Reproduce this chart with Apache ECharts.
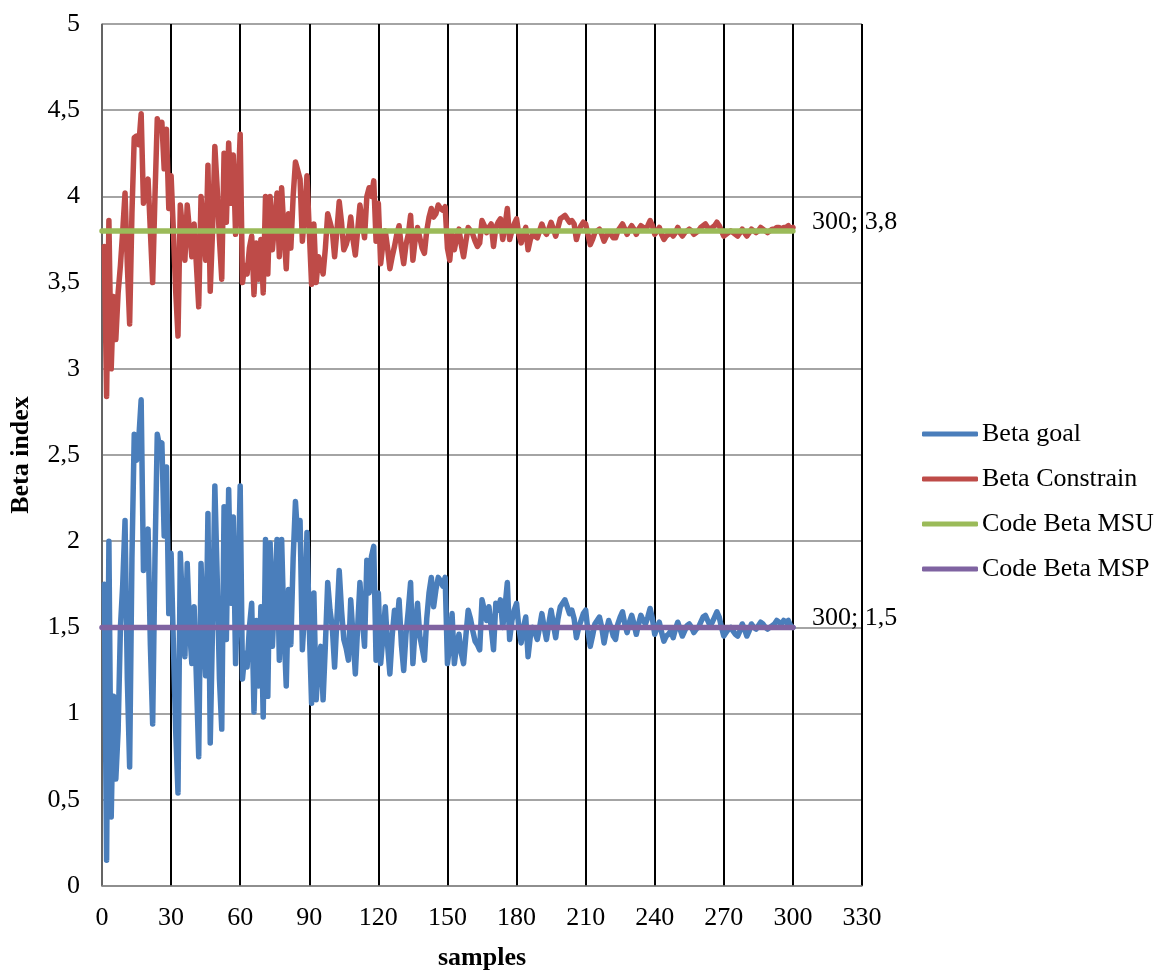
<!DOCTYPE html>
<html>
<head>
<meta charset="utf-8">
<title>Beta index vs samples</title>
<script src="https://cdn.jsdelivr.net/npm/echarts@6/dist/echarts.min.js"></script>
<style>
  html, body { margin: 0; padding: 0; background: #ffffff; }
  #chart { width: 1160px; height: 972px; }
</style>
</head>
<body>
<div id="chart"></div>
<script>
// Beta index per sample (samples 1..300)
const betaGoal = [
  1.75, 0.15, 2.00, 0.40, 1.10, 0.62, 0.90, 1.50, 1.75, 2.12,
  1.20, 0.69, 1.90, 2.62, 2.47, 2.60, 2.82, 1.83, 2.00, 2.07,
  1.40, 0.94, 1.90, 2.62, 2.55, 2.57, 2.03, 2.43, 1.58, 1.93,
  1.40, 0.90, 0.54, 1.93, 1.60, 1.33, 1.87, 1.50, 1.29, 1.62,
  1.20, 0.75, 1.87, 1.50, 1.22, 2.16, 0.83, 1.50, 2.32, 1.80,
  1.20, 0.91, 2.20, 1.43, 2.30, 1.64, 2.14, 1.29, 1.70, 2.32,
  1.20, 1.35, 1.27, 1.50, 1.64, 1.01, 1.54, 1.16, 1.62, 0.98,
  2.01, 1.10, 1.99, 1.39, 1.70, 2.01, 1.31, 2.01, 1.50, 1.16,
  1.72, 1.40, 1.90, 2.23, 2.01, 2.12, 1.37, 1.60, 2.05, 1.50,
  1.06, 1.70, 1.08, 1.30, 1.39, 1.08, 1.40, 1.76, 1.60, 1.50,
  1.27, 1.55, 1.83, 1.60, 1.43, 1.38, 1.31, 1.66, 1.45, 1.23,
  1.50, 1.76, 1.55, 1.39, 1.89, 1.70, 1.91, 1.97, 1.31, 1.70,
  1.29, 1.45, 1.62, 1.40, 1.23, 1.45, 1.60, 1.50, 1.66, 1.40,
  1.25, 1.46, 1.60, 1.76, 1.29, 1.50, 1.64, 1.45, 1.38, 1.31,
  1.55, 1.70, 1.79, 1.62, 1.72, 1.79, 1.77, 1.74, 1.79, 1.29,
  1.40, 1.58, 1.29, 1.40, 1.46, 1.35, 1.29, 1.45, 1.60, 1.55,
  1.48, 1.42, 1.40, 1.37, 1.66, 1.60, 1.54, 1.62, 1.50, 1.37,
  1.64, 1.60, 1.66, 1.50, 1.62, 1.76, 1.43, 1.54, 1.60, 1.64,
  1.50, 1.41, 1.50, 1.56, 1.33, 1.45, 1.50, 1.47, 1.43, 1.50,
  1.58, 1.50, 1.43, 1.52, 1.60, 1.52, 1.44, 1.55, 1.62, 1.64,
  1.66, 1.62, 1.58, 1.60, 1.55, 1.44, 1.50, 1.54, 1.58, 1.60,
  1.48, 1.39, 1.45, 1.52, 1.54, 1.56, 1.50, 1.41, 1.48, 1.54,
  1.50, 1.45, 1.43, 1.52, 1.56, 1.59, 1.52, 1.47, 1.53, 1.57,
  1.52, 1.46, 1.52, 1.57, 1.54, 1.52, 1.56, 1.61, 1.55, 1.46,
  1.50, 1.53, 1.47, 1.42, 1.45, 1.46, 1.48, 1.44, 1.49, 1.53,
  1.49, 1.45, 1.48, 1.51, 1.52, 1.50, 1.47, 1.49, 1.50, 1.53,
  1.56, 1.57, 1.54, 1.51, 1.53, 1.56, 1.59, 1.56, 1.50, 1.45,
  1.47, 1.49, 1.50, 1.48, 1.46, 1.45, 1.48, 1.52, 1.49, 1.45,
  1.48, 1.52, 1.50, 1.49, 1.51, 1.53, 1.52, 1.50, 1.49, 1.50,
  1.51, 1.52, 1.54, 1.53, 1.52, 1.54, 1.53, 1.54, 1.51, 1.50
];

const betaConstrain = [
  3.71, 2.84, 3.86, 3.00, 3.42, 3.17, 3.44, 3.60, 3.80, 4.02,
  3.60, 3.26, 3.90, 4.34, 4.35, 4.30, 4.48, 3.96, 4.05, 4.10,
  3.80, 3.50, 4.00, 4.45, 4.40, 4.43, 4.16, 4.39, 3.93, 4.12,
  3.80, 3.45, 3.19, 3.95, 3.80, 3.63, 3.95, 3.80, 3.65, 3.84,
  3.60, 3.36, 4.00, 3.80, 3.63, 4.18, 3.45, 3.80, 4.29, 4.05,
  3.75, 3.52, 4.25, 3.85, 4.31, 3.96, 4.24, 3.78, 4.00, 4.36,
  3.50, 3.60, 3.55, 3.70, 3.77, 3.43, 3.73, 3.52, 3.75, 3.44,
  4.00, 3.55, 4.00, 3.69, 3.85, 4.02, 3.65, 4.05, 3.80, 3.58,
  3.90, 3.70, 4.00, 4.20, 4.15, 4.10, 3.74, 3.90, 4.12, 3.80,
  3.49, 3.84, 3.50, 3.65, 3.61, 3.55, 3.70, 3.90, 3.85, 3.80,
  3.65, 3.80, 3.97, 3.85, 3.69, 3.72, 3.77, 3.88, 3.75, 3.66,
  3.80, 3.95, 3.85, 3.76, 4.00, 4.05, 4.00, 4.09, 3.74, 3.96,
  3.61, 3.73, 3.80, 3.70, 3.58, 3.65, 3.71, 3.78, 3.83, 3.70,
  3.61, 3.72, 3.78, 3.89, 3.63, 3.75, 3.82, 3.76, 3.70, 3.67,
  3.80, 3.88, 3.93, 3.88, 3.90, 3.95, 3.93, 3.92, 3.94, 3.70,
  3.63, 3.78, 3.69, 3.76, 3.81, 3.72, 3.65, 3.74, 3.82, 3.80,
  3.78, 3.74, 3.71, 3.73, 3.86, 3.83, 3.79, 3.82, 3.84, 3.71,
  3.82, 3.85, 3.87, 3.75, 3.83, 3.93, 3.75, 3.80, 3.84, 3.87,
  3.78, 3.73, 3.78, 3.82, 3.69, 3.75, 3.78, 3.77, 3.76, 3.80,
  3.84, 3.80, 3.78, 3.81, 3.85, 3.81, 3.77, 3.82, 3.87, 3.88,
  3.89, 3.87, 3.85, 3.86, 3.84, 3.75, 3.80, 3.83, 3.85, 3.84,
  3.78, 3.72, 3.75, 3.79, 3.80, 3.81, 3.78, 3.74, 3.77, 3.79,
  3.78, 3.76, 3.76, 3.80, 3.82, 3.84, 3.81, 3.78, 3.81, 3.83,
  3.81, 3.78, 3.81, 3.83, 3.82, 3.81, 3.83, 3.86, 3.83, 3.78,
  3.80, 3.82, 3.78, 3.75, 3.77, 3.78, 3.79, 3.77, 3.79, 3.82,
  3.79, 3.77, 3.79, 3.80, 3.81, 3.80, 3.78, 3.79, 3.80, 3.82,
  3.83, 3.84, 3.82, 3.81, 3.82, 3.83, 3.85, 3.83, 3.80, 3.77,
  3.78, 3.79, 3.80, 3.79, 3.78, 3.77, 3.79, 3.81, 3.79, 3.77,
  3.79, 3.81, 3.80, 3.79, 3.80, 3.82, 3.81, 3.80, 3.79, 3.80,
  3.81, 3.81, 3.82, 3.82, 3.81, 3.82, 3.82, 3.83, 3.81, 3.82
];

// Code reference levels, drawn from sample 0 to 300
const codeRangeX = [0, 300];
const codeBetaMSU = [3.8, 3.8];
const codeBetaMSP = [1.5, 1.5];

const seriesNames = ['Beta goal', 'Beta Constrain', 'Code Beta MSU', 'Code Beta MSP'];
const seriesColors = ['#4a7ebb', '#be4b48', '#9bbb59', '#7f63a1'];

const xTicks = { min: 0, max: 330, interval: 30 };
const yTicks = { min: 0, max: 5, interval: 0.5 };

const FONT = 'Liberation Serif';
const FS = 26;
const comma = v => String(v).replace('.', ',');

const toPairs = vals => vals.map((v, i) => [i + 1, v]);
const levelPairs = vals => vals.map((v, i) => [codeRangeX[i], v]);

const chart = echarts.init(document.getElementById('chart'), null, { renderer: 'canvas' });

function lineSeries(idx, data, extra) {
  return Object.assign({
    name: seriesNames[idx],
    type: 'line',
    data: data,
    showSymbol: false,
    symbol: 'none',
    animation: false,
    lineStyle: { color: seriesColors[idx], width: 5.5, cap: 'round', join: 'round' },
    itemStyle: { color: seriesColors[idx] },
    z: 2 + idx
  }, extra || {});
}

// "x; y" tag printed at the right end of a reference level
function levelEndLabel() {
  return {
    show: true,
    distance: 19,
    offset: [0, -9],
    fontFamily: FONT,
    fontSize: FS,
    color: '#000',
    formatter: p => p.value[0] + '; ' + comma(p.value[1])
  };
}

chart.setOption({
  backgroundColor: '#ffffff',
  animation: false,
  textStyle: { fontFamily: FONT },
  grid: { left: 102, right: 298, top: 24, bottom: 86, containLabel: false, outerBoundsMode: 'none' },
  legend: {
    orient: 'vertical',
    left: 922,
    top: 421,
    padding: 0,
    data: seriesNames,
    icon: 'roundRect',
    itemWidth: 56,
    itemHeight: 5,
    itemGap: 19,
    textStyle: { fontFamily: FONT, fontSize: FS, color: '#000', lineHeight: 26, padding: [0, 0, 0, -1] },
    selectedMode: false
  },
  xAxis: {
    type: 'value',
    min: xTicks.min, max: xTicks.max, interval: xTicks.interval,
    name: 'samples',
    nameLocation: 'middle',
    nameGap: 59,
    nameTextStyle: { fontFamily: FONT, fontSize: FS, fontWeight: 'bold', color: '#000' },
    axisLine: { show: true, onZero: false, lineStyle: { color: '#868686', width: 1.5 } },
    axisTick: { show: false },
    axisLabel: { fontFamily: FONT, fontSize: FS, color: '#000', margin: 19 },
    splitLine: { show: true, lineStyle: { color: '#000', width: 2 } }
  },
  yAxis: {
    type: 'value',
    min: yTicks.min, max: yTicks.max, interval: yTicks.interval,
    name: 'Beta index',
    nameLocation: 'middle',
    nameGap: 68,
    nameRotate: 90,
    nameTextStyle: { fontFamily: FONT, fontSize: FS, fontWeight: 'bold', color: '#000' },
    axisLine: { show: true, lineStyle: { color: '#868686', width: 1.5 } },
    axisTick: { show: false },
    axisLabel: { fontFamily: FONT, fontSize: FS, color: '#000', margin: 22, formatter: comma },
    splitLine: { show: true, lineStyle: { color: '#868686', width: 1.5 } }
  },
  series: [
    lineSeries(0, toPairs(betaGoal)),
    lineSeries(1, toPairs(betaConstrain)),
    lineSeries(2, levelPairs(codeBetaMSU), { endLabel: levelEndLabel() }),
    lineSeries(3, levelPairs(codeBetaMSP), { endLabel: levelEndLabel() })
  ]
});
</script>
</body>
</html>
